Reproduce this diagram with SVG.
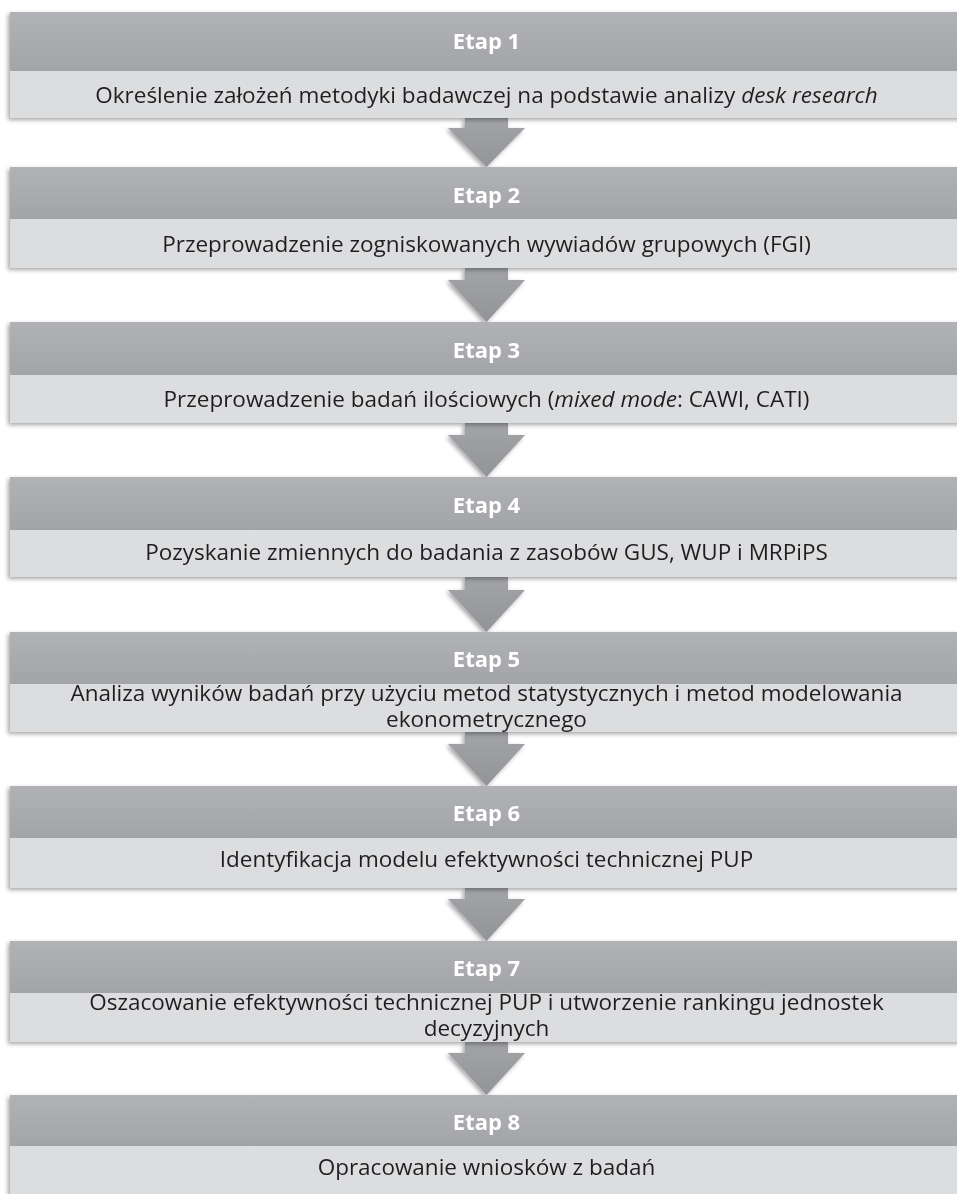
<svg xmlns="http://www.w3.org/2000/svg" width="957" height="1194" viewBox="0 0 957 1194">
<style>
.hd{fill:url(#gh)}
.bd{fill:#dcdddf}
.ht{font-family:"Open Sans","Noto Sans",sans-serif;font-weight:bold;font-size:22px;fill:#ffffff;text-anchor:middle}
.bt{font-family:"Open Sans","Noto Sans",sans-serif;font-size:22.5px;fill:#231f20;text-anchor:middle}
.it{font-style:italic}
.ar{fill:url(#ga)}
</style>
<defs>
<linearGradient id="gh" x1="0" y1="0" x2="0" y2="1">
<stop offset="0" stop-color="#b1b2b5"/>
<stop offset="1" stop-color="#a3a4a7"/>
</linearGradient>
<linearGradient id="ga" x1="0" y1="0" x2="0" y2="1">
<stop offset="0" stop-color="#a3a4a7"/>
<stop offset="1" stop-color="#939497"/>
</linearGradient>
<filter id="sh" x="-5%" y="-20%" width="110%" height="140%">
<feDropShadow dx="-2" dy="2" stdDeviation="2" flood-color="#000" flood-opacity="0.35"/>
</filter>
</defs>
<g id="connectors">
<path class="ar" filter="url(#sh)" d="M465,118 H508 V128 H525 L486.5,167 L448,128 H465 Z"/>
<path class="ar" filter="url(#sh)" d="M465,268 H508 V280 H525 L486.5,322 L448,280 H465 Z"/>
<path class="ar" filter="url(#sh)" d="M465,423 H508 V435 H525 L486.5,477 L448,435 H465 Z"/>
<path class="ar" filter="url(#sh)" d="M465,577 H508 V590 H525 L486.5,632 L448,590 H465 Z"/>
<path class="ar" filter="url(#sh)" d="M465,732 H508 V744 H525 L486.5,786 L448,744 H465 Z"/>
<path class="ar" filter="url(#sh)" d="M465,888 H508 V899 H525 L486.5,941 L448,899 H465 Z"/>
<path class="ar" filter="url(#sh)" d="M465,1042 H508 V1053 H525 L486.5,1095 L448,1053 H465 Z"/>
</g>
<g id="etap1" filter="url(#sh)">
<rect class="hd" x="10" y="12" width="960" height="59"/>
<rect class="bd" x="10" y="71" width="960" height="47"/>
<text class="ht" x="486.5" y="49">Etap 1</text>
<text class="bt" x="486.5" y="103">Określenie założeń metodyki badawczej na podstawie analizy <tspan class="it">desk research</tspan></text>
</g>
<g id="etap2" filter="url(#sh)">
<rect class="hd" x="10" y="167" width="960" height="52"/>
<rect class="bd" x="10" y="219" width="960" height="49"/>
<text class="ht" x="486.5" y="203">Etap 2</text>
<text class="bt" x="486.5" y="252">Przeprowadzenie zogniskowanych wywiadów grupowych (FGI)</text>
</g>
<g id="etap3" filter="url(#sh)">
<rect class="hd" x="10" y="322" width="960" height="53"/>
<rect class="bd" x="10" y="375" width="960" height="48"/>
<text class="ht" x="486.5" y="358">Etap 3</text>
<text class="bt" x="486.5" y="406.5">Przeprowadzenie badań ilościowych (<tspan class="it">mixed mode</tspan>: CAWI, CATI)</text>
</g>
<g id="etap4" filter="url(#sh)">
<rect class="hd" x="10" y="477" width="960" height="53"/>
<rect class="bd" x="10" y="530" width="960" height="47"/>
<text class="ht" x="486.5" y="512.5">Etap 4</text>
<text class="bt" x="486.5" y="560">Pozyskanie zmiennych do badania z zasobów GUS, WUP i MRPiPS</text>
</g>
<g id="etap5" filter="url(#sh)">
<rect class="hd" x="10" y="632" width="960" height="52"/>
<rect class="bd" x="10" y="684" width="960" height="48"/>
<text class="ht" x="486.5" y="666.5">Etap 5</text>
<text class="bt" x="486.5" y="701">Analiza wyników badań przy użyciu metod statystycznych i metod modelowania</text>
<text class="bt" x="486.5" y="727">ekonometrycznego</text>
</g>
<g id="etap6" filter="url(#sh)">
<rect class="hd" x="10" y="786" width="960" height="52"/>
<rect class="bd" x="10" y="838" width="960" height="50"/>
<text class="ht" x="486.5" y="820.5">Etap 6</text>
<text class="bt" x="486.5" y="867">Identyfikacja modelu efektywności technicznej PUP</text>
</g>
<g id="etap7" filter="url(#sh)">
<rect class="hd" x="10" y="941" width="960" height="52"/>
<rect class="bd" x="10" y="993" width="960" height="49"/>
<text class="ht" x="486.5" y="975.5">Etap 7</text>
<text class="bt" x="486.5" y="1010">Oszacowanie efektywności technicznej PUP i utworzenie rankingu jednostek</text>
<text class="bt" x="486.5" y="1036">decyzyjnych</text>
</g>
<g id="etap8" filter="url(#sh)">
<rect class="hd" x="10" y="1095" width="960" height="51"/>
<rect class="bd" x="10" y="1146" width="960" height="60"/>
<text class="ht" x="486.5" y="1129.5">Etap 8</text>
<text class="bt" x="486.5" y="1175">Opracowanie wniosków z badań</text>
</g>
</svg>
